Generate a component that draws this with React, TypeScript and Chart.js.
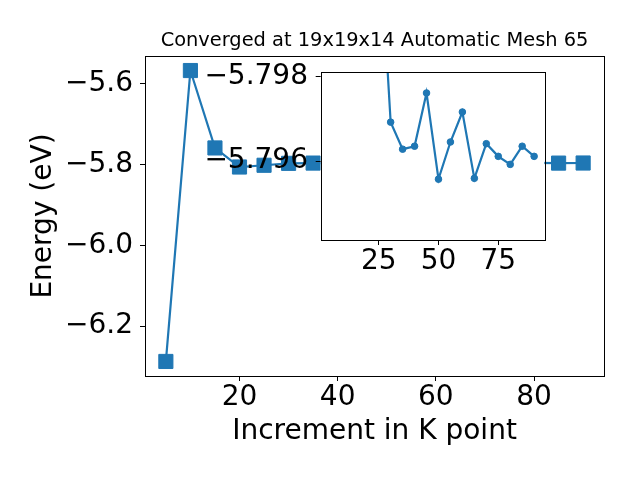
import React, { useEffect, useRef } from 'react';
import { Chart, registerables } from 'chart.js';

Chart.register(...registerables);

// ---- data ----
const kPoints = [5, 10, 15, 20, 25, 30, 35, 40, 45, 50, 55, 60, 65, 70, 75, 80, 85, 90];
const energy = [
  -6.2877, -5.567, -5.7588, -5.806, -5.8017, -5.79692, -5.79628, -5.79635, -5.79761,
  -5.79557, -5.79645, -5.79716, -5.79559, -5.79641, -5.79611, -5.79592, -5.79635, -5.79611,
];
const insetFromK = 25; // inset plots the converging part of the series
const mainXTicks = [20, 40, 60, 80];
const mainYTicks = [-6.2, -6.0, -5.8, -5.6];
const insetXTicks = [25, 50, 75];
const insetYTicks = [-5.798, -5.796];
const insetYLimits = [-5.79413, -5.7981]; // bottom, top (inverted axis)
const titleText = 'Converged at 19x19x14 Automatic Mesh 65';
const xLabel = 'Increment in K point';
const yLabel = 'Energy (eV)';

const BLUE = '#1f77b4';
const FONT = 'DejaVu Sans';

const fmt = (v: number, d: number) => v.toFixed(d).replace('-', '\u2212');

const margin = (arr: number[]) => {
  const mn = Math.min(...arr);
  const mx = Math.max(...arr);
  const r = mx - mn;
  return [mn - 0.05 * r, mx + 0.05 * r];
};

const framePlugin = {
  id: 'frameBox',
  beforeDatasetsDraw(chart: any) {
    const { ctx, chartArea: a } = chart;
    ctx.save();
    ctx.fillStyle = '#ffffff';
    ctx.fillRect(a.left, a.top, a.right - a.left, a.bottom - a.top);
    ctx.restore();
  },
  afterDatasetsDraw(chart: any) {
    const { ctx, chartArea: a } = chart;
    ctx.save();
    ctx.strokeStyle = '#000000';
    ctx.lineWidth = 1;
    ctx.strokeRect(Math.round(a.left) + 0.5, Math.round(a.top) + 0.5, Math.round(a.right - a.left), Math.round(a.bottom - a.top));
    ctx.restore();
  },
};

const tickFont = { family: FONT, size: 28, lineHeight: 1 };

const fixHeight = (h: number) => (s: any) => {
  s.height = h;
  s.paddingLeft = 0;
  s.paddingRight = 0;
  s.paddingTop = 0;
  s.paddingBottom = 0;
};
const fixWidth = (w: number) => (s: any) => {
  s.width = w;
  s.paddingLeft = 0;
  s.paddingRight = 0;
  s.paddingTop = 0;
  s.paddingBottom = 0;
};

export default function App() {
  const mainRef = useRef<HTMLCanvasElement>(null);
  const insetRef = useRef<HTMLCanvasElement>(null);

  useEffect(() => {
    Chart.defaults.font.family = FONT;
    const pts = kPoints.map((x, i) => ({ x, y: energy[i] }));
    const insetPts = pts.filter((p) => p.x >= insetFromK);
    const [xMin, xMax] = margin(kPoints);
    const [yMin, yMax] = margin(energy);

    const main = new Chart(mainRef.current!, {
      type: 'line',
      data: {
        datasets: [
          {
            data: pts,
            borderColor: BLUE,
            backgroundColor: BLUE,
            borderWidth: 2.2,
            pointStyle: 'rect',
            pointRadius: 10,
            pointBorderWidth: 1,
            pointBackgroundColor: BLUE,
            pointBorderColor: BLUE,
            tension: 0,
          },
        ],
      },
      plugins: [framePlugin],
      options: {
        responsive: false,
        animation: false,
        devicePixelRatio: 1,
        layout: { padding: { left: 0, right: 36, top: 0, bottom: 0 } },
        plugins: {
          legend: { display: false },
          tooltip: { enabled: false },
          title: {
            display: true,
            text: titleText,
            fullSize: false,
            color: '#000',
            font: { family: FONT, size: 19.4, weight: 'normal', lineHeight: 1.2 },
            padding: { top: 29.7, bottom: 3.0 },
          },
        },
        scales: {
          x: {
            type: 'linear',
            min: xMin,
            max: xMax,
            afterBuildTicks: (s: any) => { s.ticks = mainXTicks.map((v) => ({ value: v })); },
            afterFit: fixHeight(104),
            grid: { drawOnChartArea: false, drawTicks: true, tickLength: 5, color: '#000' },
            border: { display: false },
            ticks: { autoSkip: false, maxRotation: 0, padding: 2.6, color: '#000', font: tickFont, callback: (v: any) => fmt(Number(v), 0) },
            title: { display: true, text: xLabel, color: '#000', font: { family: FONT, size: 28, lineHeight: 1 }, padding: { top: 0, bottom: 34.7 } },
          },
          y: {
            type: 'linear',
            min: yMin,
            max: yMax,
            afterBuildTicks: (s: any) => { s.ticks = mainYTicks.map((v) => ({ value: v })); },
            afterFit: fixWidth(145),
            grid: { drawOnChartArea: false, drawTicks: true, tickLength: 5, color: '#000' },
            border: { display: false },
            ticks: { autoSkip: false, padding: 7, color: '#000', font: tickFont, callback: (v: any) => fmt(Number(v), 1) },
            title: { display: true, text: yLabel, color: '#000', font: { family: FONT, size: 28, lineHeight: 1 }, padding: { top: 29.7, bottom: 0 } },
          },
        },
      },
    } as any);

    const inset = new Chart(insetRef.current!, {
      type: 'line',
      data: {
        datasets: [
          {
            data: insetPts,
            borderColor: BLUE,
            backgroundColor: BLUE,
            borderWidth: 2.2,
            pointStyle: 'circle',
            pointRadius: 3.3,
            pointBorderWidth: 1,
            pointBackgroundColor: BLUE,
            pointBorderColor: BLUE,
            tension: 0,
            clip: 0,
          },
        ],
      },
      plugins: [framePlugin],
      options: {
        responsive: false,
        animation: false,
        devicePixelRatio: 1,
        layout: { padding: { left: 0, right: 15.7, top: 16.3, bottom: 0 } },
        plugins: { legend: { display: false }, tooltip: { enabled: false }, title: { display: false } },
        scales: {
          x: {
            type: 'linear',
            min: xMin,
            max: xMax,
            afterBuildTicks: (s: any) => { s.ticks = insetXTicks.map((v) => ({ value: v })); },
            afterFit: fixHeight(56),
            grid: { drawOnChartArea: false, drawTicks: true, tickLength: 5, color: '#000' },
            border: { display: false },
            ticks: { autoSkip: false, maxRotation: 0, padding: 2.6, color: '#000', font: tickFont, callback: (v: any) => fmt(Number(v), 0) },
          },
          y: {
            type: 'linear',
            reverse: true,
            min: insetYLimits[1],
            max: insetYLimits[0],
            afterBuildTicks: (s: any) => { s.ticks = insetYTicks.map((v) => ({ value: v })); },
            afterFit: fixWidth(150.7),
            grid: { drawOnChartArea: false, drawTicks: true, tickLength: 5, color: '#000' },
            border: { display: false },
            ticks: { autoSkip: false, padding: 7.7, color: '#000', font: tickFont, callback: (v: any) => fmt(Number(v), 3) },
          },
        },
      },
    } as any);

    return () => {
      main.destroy();
      inset.destroy();
    };
  }, []);

  return (
    <div style={{ position: 'absolute', left: 0, top: 0, width: 640, height: 480, background: '#fff' }}>
      <canvas ref={mainRef} width={640} height={480} style={{ position: 'absolute', left: 0, top: 0 }} />
      <canvas ref={insetRef} width={390} height={240} style={{ position: 'absolute', left: 170, top: 56 }} />
    </div>
  );
}
